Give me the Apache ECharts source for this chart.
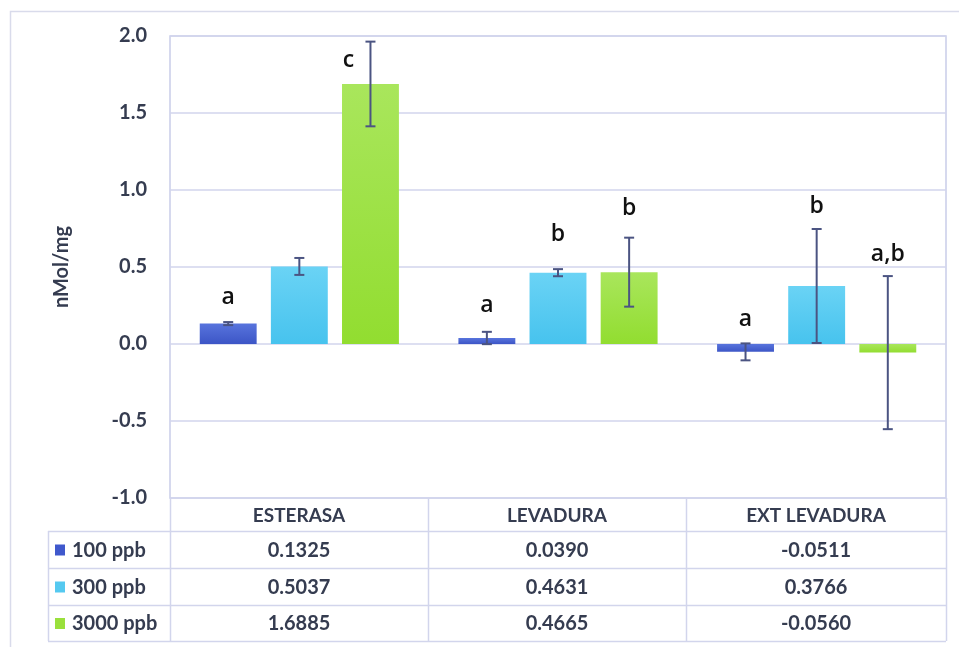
<!DOCTYPE html>
<html>
<head>
<meta charset="utf-8">
<script src="https://cdn.jsdelivr.net/npm/echarts@6/dist/echarts.min.js"></script>
<style>html,body{margin:0;padding:0;background:#fff}#c{width:959px;height:647px}</style>
</head>
<body>
<div id="c"></div>
<script>
// ---- data ----
var categories = ['ESTERASA', 'LEVADURA', 'EXT LEVADURA'];
var seriesNames = ['100 ppb', '300 ppb', '3000 ppb'];
var values100 = [0.1325, 0.0390, -0.0511];
var values300 = [0.5037, 0.4631, 0.3766];
var values3000 = [1.6885, 0.4665, -0.0560];
var err100 = [0.01, 0.04, 0.055];
var err300 = [0.055, 0.023, 0.37];
var err3000 = [0.275, 0.224, 0.497];
var tableText100 = ['0.1325', '0.0390', '-0.0511'];
var tableText300 = ['0.5037', '0.4631', '0.3766'];
var tableText3000 = ['1.6885', '0.4665', '-0.0560'];
var letters100 = ['a', 'a', 'a'];
var letters300 = ['', 'b', 'b'];
var letters3000 = ['c', 'b', 'a,b'];
var letterAt100 = [0.30, 0.25, 0.16];
var letterAt300 = [0, 0.71, 0.89];
var letterAt3000 = [1.84, 0.88, 0.58];
var yTicks = [-1.0, -0.5, 0.0, 0.5, 1.0, 1.5, 2.0];

// ---- layout / style ----
var W = 959, H = 647;
var G = {left: 170, top: 36, right: 946, bottom: 498};
var FONT = 'Lato, "Open Sans", sans-serif';
var TXT = '#353c50';
var LINE = '#d2d5ec';
var colors = [
  new echarts.graphic.LinearGradient(0,0,0,1,[{offset:0,color:'#5874dd'},{offset:1,color:'#3c55c6'}]),
  new echarts.graphic.LinearGradient(0,0,0,1,[{offset:0,color:'#6ad3f5'},{offset:1,color:'#47c3ee'}]),
  new echarts.graphic.LinearGradient(0,0,0,1,[{offset:0,color:'#a9e65c'},{offset:1,color:'#92dd30'}])
];
var swatch = ['#3f58cc', '#55c9f0', '#9ae03c'];
var allVals = [values100, values300, values3000];
var allErr = [err100, err300, err3000];
var allText = [tableText100, tableText300, tableText3000];
var allLetters = [letters100, letters300, letters3000];
var allLetterAt = [letterAt100, letterAt300, letterAt3000];
var letterDx = [[0,0,0],[0,0,0],[-22,0,0]];
var CAT_GAP = 0.23, BAR_GAP = 0.25;

function barOffset(bandW, i) {
  var w = bandW * (1 - CAT_GAP) / (3 + 2 * BAR_GAP);
  return {w: w, off: (i - 1) * w * (1 + BAR_GAP)};
}

var errData = [], letterData = [];
for (var s = 0; s < 3; s++) {
  for (var c = 0; c < 3; c++) {
    errData.push([c, s, allVals[s][c] - allErr[s][c], allVals[s][c] + allErr[s][c]]);
    if (allLetters[s][c]) letterData.push([c, s, allLetterAt[s][c], allLetters[s][c], letterDx[s][c]]);
  }
}

var series = [];
for (var s2 = 0; s2 < 3; s2++) {
  series.push({
    type: 'bar', name: seriesNames[s2], data: allVals[s2],
    barCategoryGap: (CAT_GAP * 100) + '%', barGap: (BAR_GAP * 100) + '%',
    itemStyle: {color: colors[s2]}, animation: false
  });
}
series.push({
  type: 'custom', data: errData, z: 10, animation: false,
  renderItem: function (params, api) {
    var c = api.value(0), s = api.value(1);
    var bw = api.size([1, 0])[0];
    var o = barOffset(bw, s);
    var lo = api.coord([c, api.value(2)]), hi = api.coord([c, api.value(3)]);
    var x = lo[0] + o.off, cap = 5;
    var st = {stroke: '#4b5482', lineWidth: 2};
    return {type: 'group', children: [
      {type: 'line', shape: {x1: x, y1: lo[1], x2: x, y2: hi[1]}, style: st},
      {type: 'line', shape: {x1: x - cap, y1: lo[1], x2: x + cap, y2: lo[1]}, style: st},
      {type: 'line', shape: {x1: x - cap, y1: hi[1], x2: x + cap, y2: hi[1]}, style: st}
    ]};
  }
});
series.push({
  type: 'custom', data: letterData, z: 11, animation: false,
  renderItem: function (params, api) {
    var c = api.value(0), s = api.value(1);
    var bw = api.size([1, 0])[0];
    var o = barOffset(bw, s);
    var p = api.coord([c, api.value(2)]);
    return {type: 'text', style: {
      x: p[0] + o.off + letterData[params.dataIndex][4], y: p[1],
      text: letterData[params.dataIndex][3], fill: '#111',
      font: '600 23px "Open Sans", sans-serif', align: 'center', verticalAlign: 'middle'}};
  }
});

// ---- data table drawn as graphics ----
var graphics = [];
graphics.push({type: 'rect', shape: {x: 10.5, y: 11.5, width: 960, height: 650}, style: {fill: 'none', stroke: '#d9dbeb', lineWidth: 1.5}, silent: true});
var colX = [G.left, 428, 686, G.right];
var rowY = [G.bottom, 531, 568, 605, 641];
function hline(x1, x2, y) { graphics.push({type: 'line', shape: {x1: x1, y1: y + 0.5, x2: x2, y2: y + 0.5}, style: {stroke: LINE, lineWidth: 1.5}, silent: true}); }
function vline(x, y1, y2) { graphics.push({type: 'line', shape: {x1: x + 0.5, y1: y1, x2: x + 0.5, y2: y2}, style: {stroke: LINE, lineWidth: 1.5}, silent: true}); }
for (var r = 1; r < rowY.length; r++) hline(48, G.right, rowY[r]);
vline(48, rowY[1], rowY[4]);
for (var k = 0; k < colX.length; k++) vline(colX[k], G.bottom, rowY[4]);
for (var cc = 0; cc < 3; cc++) {
  var cx = (colX[cc] + colX[cc + 1]) / 2;
  graphics.push({type: 'text', style: {x: cx, y: (rowY[0] + rowY[1]) / 2 + 1, text: categories[cc], fill: TXT, font: 'bold 19px ' + FONT, align: 'center', verticalAlign: 'middle'}, silent: true});
  for (var rr = 0; rr < 3; rr++) {
    graphics.push({type: 'text', style: {x: cx, y: (rowY[rr + 1] + rowY[rr + 2]) / 2 + 1, text: allText[rr][cc], fill: TXT, font: 'bold 20px ' + FONT, align: 'center', verticalAlign: 'middle'}, silent: true});
  }
}
for (var rs = 0; rs < 3; rs++) {
  var cy = (rowY[rs + 1] + rowY[rs + 2]) / 2;
  graphics.push({type: 'rect', shape: {x: 55, y: cy - 5, width: 10, height: 11}, style: {fill: swatch[rs]}, silent: true});
  graphics.push({type: 'text', style: {x: 72, y: cy + 1, text: seriesNames[rs], fill: TXT, font: 'bold 20px ' + FONT, align: 'left', verticalAlign: 'middle'}, silent: true});
}

var chart = echarts.init(document.getElementById('c'), null, {renderer: 'canvas'});
chart.setOption({
  backgroundColor: '#fff',
  animation: false,
  grid: {left: G.left, top: G.top, right: W - G.right, bottom: H - G.bottom, show: true, borderColor: '#c9cde9', borderWidth: 1.5},
  xAxis: {type: 'category', data: categories, axisLine: {show: false}, axisTick: {show: false}, axisLabel: {show: false}},
  yAxis: {
    type: 'value', min: yTicks[0], max: yTicks[yTicks.length - 1], interval: 0.5,
    name: 'nMol/mg', nameLocation: 'middle', nameGap: 98, nameRotate: 90,
    nameTextStyle: {color: TXT, fontFamily: FONT, fontWeight: 'bold', fontSize: 20},
    axisLine: {show: false}, axisTick: {show: false},
    axisLabel: {color: TXT, fontFamily: FONT, fontWeight: 'bold', fontSize: 20, margin: 23, formatter: function (v) { return v.toFixed(1); }},
    splitLine: {lineStyle: {color: '#d2d5ec', width: 1.5}}
  },
  series: series,
  graphic: graphics
});
</script>
</body>
</html>
